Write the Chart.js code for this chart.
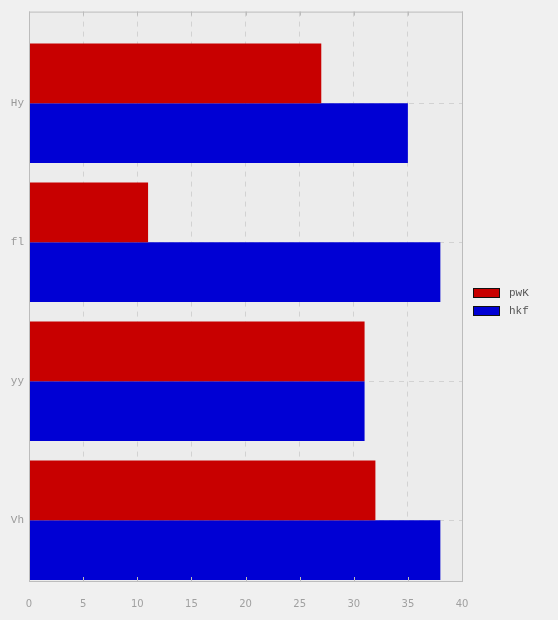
<!DOCTYPE html>
<html>
<head>
<meta charset="utf-8">
<script src="https://cdn.jsdelivr.net/npm/chart.js@4"></script>
<style>
  html, body { margin: 0; padding: 0; background: #f0f0f0; }
  #wrap { width: 558px; height: 620px; }
</style>
</head>
<body>
<div id="wrap"><canvas id="chart" width="558" height="620"></canvas></div>
<script>
// categories, top to bottom
const categories = ["Hy", "fl", "yy", "Vh"];
const positions = [3, 2, 1, 0];
const pwK = [27, 11, 31, 32];
const hkf = [35, 38, 31, 38];
const xTicks = [0, 5, 10, 15, 20, 25, 30, 35, 40];

const MONO = "'Liberation Mono', 'DejaVu Sans Mono', monospace";
const SANS = "'DejaVu Sans', sans-serif";

function points(values) {
	return values.map((v, i) => ({ x: v, y: positions[i] }));
}

// plot background + frame + legend
const framePlugin = {
	id: "frame",
	beforeDraw(chart) {
		const a = chart.chartArea, ctx = chart.ctx;
		ctx.save();
		ctx.fillStyle = "#f0f0f0";
		ctx.fillRect(0, 0, chart.width, chart.height);
		ctx.fillStyle = "#ececec";
		ctx.fillRect(a.left, a.top, a.right - a.left, a.bottom - a.top);
		ctx.restore();
	},
	afterDraw(chart) {
		const a = chart.chartArea, ctx = chart.ctx;
		ctx.save();
		ctx.strokeStyle = "#bcbcbc";
		ctx.lineWidth = 1;
		ctx.strokeRect(a.left + 0.5, a.top + 0.5, a.right - a.left, a.bottom - a.top);

		// small inward ticks on x axis
		const xs = chart.scales.x;
		ctx.beginPath();
		xTicks.forEach(v => {
			const px = Math.round(xs.getPixelForValue(v)) + 0.5;
			ctx.moveTo(px, a.bottom);
			ctx.lineTo(px, a.bottom - 4);
			ctx.moveTo(px, a.top);
			ctx.lineTo(px, a.top + 4);
		});
		ctx.stroke();

		const x = a.right + 11;
		let y = 288;
		chart.data.datasets.forEach(ds => {
			ctx.fillStyle = ds.backgroundColor;
			ctx.fillRect(x, y, 26, 9);
			ctx.strokeStyle = "#111";
			ctx.strokeRect(x + 0.5, y + 0.5, 26, 9);
			ctx.fillStyle = "#555";
			ctx.font = "11px " + MONO;
			ctx.textBaseline = "middle";
			ctx.fillText(ds.label, x + 36, y + 5);
			y += 18;
		});
		ctx.restore();
	}
};

new Chart(document.getElementById("chart"), {
	type: "bar",
	data: {
		datasets: [
			{
				label: "pwK",
				data: points(pwK),
				backgroundColor: "#c80000",
				borderWidth: 0
			},
			{
				label: "hkf",
				data: points(hkf),
				backgroundColor: "#0000d4",
				borderWidth: 0
			}
		]
	},
	options: {
		indexAxis: "y",
		responsive: false,
		animation: false,
		categoryPercentage: 0.86,
		barPercentage: 1.0,
		layout: { padding: { left: 0, top: 5, right: 96, bottom: 0 } },
		plugins: {
			legend: { display: false },
			tooltip: { enabled: false }
		},
		scales: {
			x: {
				type: "linear",
				min: 0,
				max: 40,
				offset: false,
				afterBuildTicks: s => { s.ticks = xTicks.map(v => ({ value: v })); },
				afterFit: s => { s.height = 39; },
				grid: { color: "#d2d2d2", drawTicks: false, offset: false },
				border: { display: false, dash: [5, 5] },
				ticks: { color: "#a0a0a0", font: { family: SANS, size: 10 }, padding: 17 }
			},
			y: {
				type: "linear",
				min: -0.437,
				max: 3.66,
				offset: false,
				afterBuildTicks: s => { s.ticks = positions.map(v => ({ value: v })); },
				afterFit: s => { s.width = 29; },
				grid: { color: "#d2d2d2", drawTicks: false, offset: false },
				border: { display: false, dash: [5, 5] },
				ticks: {
					color: "#999",
					font: { family: MONO, size: 11 },
					padding: 5,
					callback: v => categories[positions.indexOf(v)]
				}
			}
		}
	},
	plugins: [framePlugin]
});
</script>
</body>
</html>
